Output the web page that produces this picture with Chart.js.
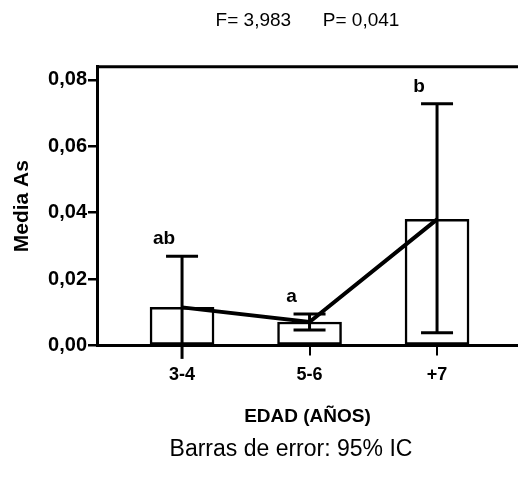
<!DOCTYPE html>
<html>
<head>
<meta charset="utf-8">
<script src="https://cdn.jsdelivr.net/npm/chart.js@4.4.1/dist/chart.umd.min.js"></script>
<style>
body{margin:0;background:#fff;overflow:hidden}
#wrap{width:518px;height:480px}
</style>
</head>
<body>
<div id="wrap"><canvas id="myChart" width="518" height="480"></canvas></div>
<script>
const grupos = ['3-4', '5-6', '+7']
const medias = [0.0115, 0.0071, 0.038]
const icInf = [-0.004, 0.0047, 0.0039]
const icSup = [0.0269, 0.0095, 0.0728]
const letras = ['ab', 'a', 'b']
const yticks = [0, 0.02, 0.04, 0.06, 0.08]
const pie = 'Barras de error: 95% IC'

const puntos = grupos.map((g, i) => ({x: i, y: medias[i]}))

// error bars, letters, top frame line and the footnote
const barrasError = {
    id: 'barrasError',
    afterDatasetsDraw(chart) {
        const ctx = chart.ctx
        const x = chart.scales.x
        const y = chart.scales.y
        const area = chart.chartArea
        ctx.save()
        ctx.strokeStyle = '#000'
        ctx.fillStyle = '#000'
        ctx.lineWidth = 3
        for (let i = 0; i < grupos.length; i++) {
            const px = x.getPixelForValue(i)
            const top = y.getPixelForValue(icSup[i])
            const bot = y.getPixelForValue(icInf[i])
            ctx.beginPath()
            ctx.moveTo(px, top)
            ctx.lineTo(px, bot)
            ctx.stroke()
            ;[top, bot].forEach(v => {
                if (v >= area.top && v <= area.bottom) {
                    ctx.beginPath()
                    ctx.moveTo(px - 16, v)
                    ctx.lineTo(px + 16, v)
                    ctx.stroke()
                }
            })
            ctx.font = 'bold 19px "Liberation Sans", Arial, sans-serif'
            ctx.textAlign = 'center'
            ctx.textBaseline = 'alphabetic'
            ctx.fillText(letras[i], px - 18, top - 12)
        }
        ctx.lineWidth = 3
        ctx.beginPath()
        ctx.moveTo(area.left, area.top)
        ctx.lineTo(area.right, area.top)
        ctx.stroke()

        ctx.font = '23px "Liberation Sans", Arial, sans-serif'
        ctx.textAlign = 'center'
        ctx.textBaseline = 'middle'
        ctx.fillText(pie, 291, chart.height - 30)
        ctx.restore()
    }
}

const ctx = document.getElementById('myChart')
const myChart = new Chart(ctx, {
    data: {
        datasets: [
            {
                type: 'line',
                data: puntos,
                borderColor: '#000',
                borderWidth: 4,
                pointRadius: 0,
                tension: 0,
                order: 0
            },
            {
                type: 'bar',
                data: puntos,
                backgroundColor: '#fff',
                borderColor: '#000',
                borderWidth: 2.5,
                borderSkipped: false,
                barThickness: 64,
                order: 1
            }
        ]
    },
    options: {
        responsive: false,
        animation: false,
        layout: {
            padding: {left: 0, right: 0, top: 0, bottom: 48}
        },
        plugins: {
            legend: {display: false},
            tooltip: {enabled: false},
            title: {
                display: true,
                fullSize: false,
                text: 'F= 3,983      P= 0,041',
                color: '#000',
                font: {family: '"Liberation Sans", Arial, sans-serif', size: 19, weight: 'normal'},
                padding: {top: 9, bottom: 35}
            }
        },
        scales: {
            x: {
                type: 'linear',
                min: -0.667,
                max: 2.635,
                offset: false,
                afterBuildTicks: function(scale) {
                    scale.ticks = grupos.map((g, i) => ({value: i}))
                },
                ticks: {
                    color: '#000',
                    padding: 9,
                    maxRotation: 0,
                    font: {family: '"Liberation Sans", Arial, sans-serif', size: 18, weight: 'bold'},
                    callback: function(value) {
                        return grupos[value]
                    }
                },
                grid: {drawOnChartArea: false, offset: false, color: '#000', lineWidth: 2, tickLength: 10},
                border: {display: true, color: '#000', width: 3},
                title: {
                    display: true,
                    text: 'EDAD (AÑOS)',
                    color: '#000',
                    font: {family: '"Liberation Sans", Arial, sans-serif', size: 19, weight: 'bold'},
                    padding: {top: 10, bottom: 4}
                }
            },
            y: {
                min: 0,
                max: 0.0839,
                afterBuildTicks: function(scale) {
                    scale.ticks = yticks.map(v => ({value: v}))
                },
                afterFit: function(scale) {
                    scale.width = 97
                },
                ticks: {
                    color: '#000',
                    padding: 1,
                    font: {family: '"Liberation Sans", Arial, sans-serif', size: 20, weight: 'bold'},
                    callback: function(value) {
                        return value.toFixed(2).replace('.', ',')
                    }
                },
                grid: {drawOnChartArea: false, color: '#000', lineWidth: 2.5, tickLength: 9},
                border: {display: true, color: '#000', width: 3},
                title: {
                    display: true,
                    text: 'Media As',
                    color: '#000',
                    font: {family: '"Liberation Sans", Arial, sans-serif', size: 21, weight: 'bold'},
                    padding: {top: 10, bottom: 2}
                }
            }
        }
    },
    plugins: [barrasError]
})
</script>
</body>
</html>
